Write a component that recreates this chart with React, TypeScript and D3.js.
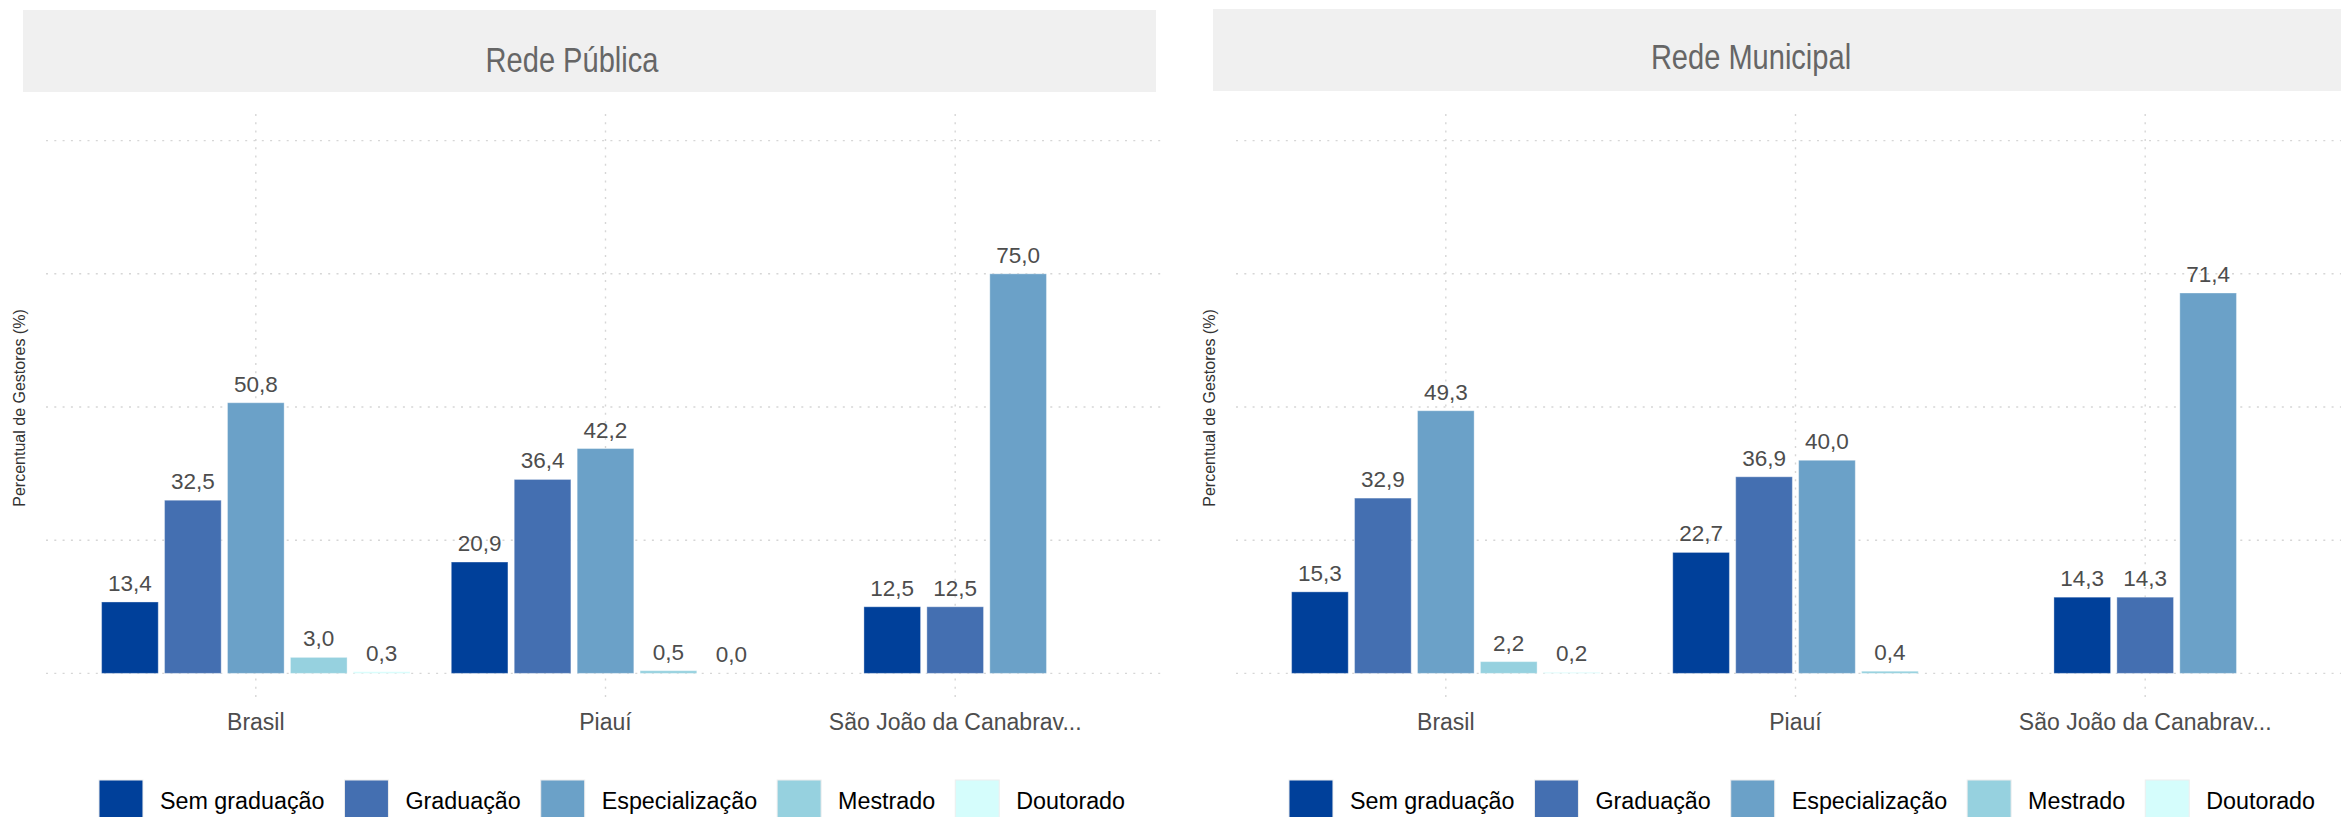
import React from 'react';
import * as d3 from 'd3';

// ---------- data ----------
const categories = ['Brasil', 'Piauí', 'São João da Canabrav...'];
const levels = ['Sem graduação', 'Graduação', 'Especialização', 'Mestrado', 'Doutorado'];
const levelColors = ['#00409A', '#446FB1', '#6BA1C8', '#96D1DF', '#D5FDFC'];
const panelTitles = ['Rede Pública', 'Rede Municipal'];
const yTicks = [0, 25, 50, 75, 100];

const publicaBrasil = [13.4, 32.5, 50.8, 3.0, 0.3];
const publicaPiaui = [20.9, 36.4, 42.2, 0.5, 0.0];
const publicaSaoJoao = [12.5, 12.5, 75.0, null, null];

const municipalBrasil = [15.3, 32.9, 49.3, 2.2, 0.2];
const municipalPiaui = [22.7, 36.9, 40.0, 0.4, null];
const municipalSaoJoao = [14.3, 14.3, 71.4, null, null];

const panelData: (number | null)[][][] = [
  [publicaBrasil, publicaPiaui, publicaSaoJoao],
  [municipalBrasil, municipalPiaui, municipalSaoJoao],
];

// ---------- layout ----------
const W = 2341;
const H = 817;
const panelOffset = 1190;
const titleCenters = [572, 1751];
const titleBaselines = [72, 69];

const fmt = (v: number) => v.toFixed(1).replace('.', ',');

function measure(text: string, font: string): number {
  const c = document.createElement('canvas');
  const ctx = c.getContext('2d')!;
  ctx.font = font;
  return ctx.measureText(text).width;
}

function Panel({ idx }: { idx: number }) {
  const off = idx * panelOffset;
  const x = d3
    .scaleBand<string>()
    .domain(categories)
    .range([46 + off, 1165 + off])
    .paddingInner(0)
    .paddingOuter(0.1);
  const y = d3.scaleLinear().domain([-5, 105]).range([700, 114]);
  const step = x.step();
  const slot = (0.9 * step) / levels.length;
  const barW = slot * 0.9;
  const data = panelData[idx];

  const legendFontSize = 23.3;
  const legendFont = `${legendFontSize}px 'Liberation Sans', Arial, sans-serif`;
  const keySize = 44;
  const keyGap = 17;
  const itemGap = 20;
  const widths = levels.map((l) => measure(l, legendFont));
  const totalW = widths.reduce((a, w) => a + keySize + keyGap + w, 0) + itemGap * (levels.length - 1);
  let lx = 612 + off - totalW / 2;
  const legendItems = levels.map((l, i) => {
    const item = { x: lx, label: l, color: levelColors[i] };
    lx += keySize + keyGap + widths[i] + itemGap;
    return item;
  });

  const tc = titleCenters[idx];

  return (
    <g>
      {/* strip */}
      <rect x={23 + off} y={idx === 0 ? 10 : 9} width={1133} height={82} fill="#F0F0F0" />
      <text
        x={tc}
        y={titleBaselines[idx]}
        textAnchor="middle"
        fontFamily="'Liberation Sans', Arial, sans-serif"
        fontSize={35}
        fill="#666666"
        transform={`translate(${tc},0) scale(0.83,1) translate(${-tc},0)`}
      >
        {panelTitles[idx]}
      </text>

      {/* grid */}
      {yTicks.map((t) => (
        <line
          key={'h' + t}
          x1={46 + off}
          x2={1165 + off}
          y1={y(t)}
          y2={y(t)}
          stroke="#D6D6D6"
          strokeWidth={1.4}
          strokeDasharray="2 6.3"
        />
      ))}
      {categories.map((c) => (
        <line
          key={'v' + c}
          x1={x(c)! + step / 2}
          x2={x(c)! + step / 2}
          y1={114}
          y2={700}
          stroke="#D6D6D6"
          strokeWidth={1.4}
          strokeDasharray="2 6.3"
        />
      ))}

      {/* bars */}
      {categories.map((c, ci) => {
        const vals = data[ci];
        const present = vals.map((v, i) => ({ v, i })).filter((d) => d.v !== null) as { v: number; i: number }[];
        const cx = x(c)! + step / 2;
        const n = present.length;
        return present.map((d, k) => {
          const bc = cx + (k - (n - 1) / 2) * slot;
          const top = y(d.v);
          return (
            <g key={c + d.i}>
              <rect
                x={bc - barW / 2}
                y={top}
                width={barW}
                height={Math.max(0, y(0) - top)}
                fill={levelColors[d.i]}
                stroke="rgba(255,255,255,0.35)"
                strokeWidth={1}
              />
              <text
                x={bc}
                y={top - 11}
                textAnchor="middle"
                fontFamily="'Liberation Sans', Arial, sans-serif"
                fontSize={22.5}
                fill="#4D4D4D"
              >
                {fmt(d.v)}
              </text>
            </g>
          );
        });
      })}

      {/* x axis labels */}
      {categories.map((c) => (
        <text
          key={'xl' + c}
          x={x(c)! + step / 2}
          y={730}
          textAnchor="middle"
          fontFamily="'Liberation Sans', Arial, sans-serif"
          fontSize={23}
          fill="#4D4D4D"
        >
          {c}
        </text>
      ))}

      {/* y title */}
      <text
        transform={`translate(${25 + off},408) rotate(-90)`}
        textAnchor="middle"
        fontFamily="'Liberation Sans', Arial, sans-serif"
        fontSize={16}
        fill="#333333"
      >
        Percentual de Gestores (%)
      </text>

      {/* legend */}
      {legendItems.map((it) => (
        <g key={'lg' + it.label}>
          <rect x={it.x} y={780} width={keySize} height={keySize} fill={it.color} stroke="#EEEEEE" strokeWidth={1} />
          <text
            x={it.x + keySize + keyGap}
            y={809}
            fontFamily="'Liberation Sans', Arial, sans-serif"
            fontSize={legendFontSize}
            fill="#000000"
          >
            {it.label}
          </text>
        </g>
      ))}
    </g>
  );
}

export default function App() {
  return (
    <svg
      width={W}
      height={H}
      viewBox={`0 0 ${W} ${H}`}
      style={{ position: 'absolute', left: 0, top: 0, background: '#FFFFFF' }}
    >
      <rect x={0} y={0} width={W} height={H} fill="#FFFFFF" />
      <Panel idx={0} />
      <Panel idx={1} />
    </svg>
  );
}
